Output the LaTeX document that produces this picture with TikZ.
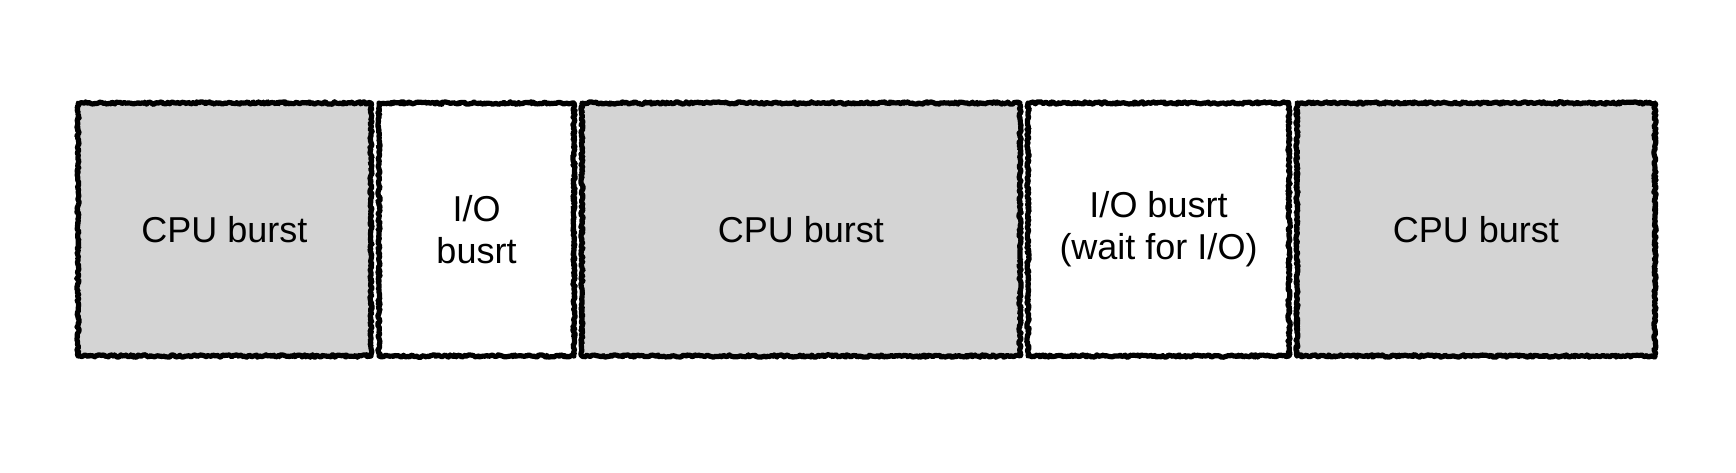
\documentclass[tikz,border=0pt]{standalone}
\usepackage{fontspec}
\setmainfont{Liberation Sans}
\usetikzlibrary{decorations.pathmorphing}
\definecolor{cpufill}{RGB}{212,212,212}
\begin{document}
\pgfmathsetseed{7}
\begin{tikzpicture}[x=0.5pt,y=-0.5pt,
  box/.style={draw=black, line width=2.6pt, line join=round, inner sep=0pt, align=center,
    minimum height=126.5pt,
    font=\fontsize{18}{21}\selectfont,
    decorate, decoration={random steps, segment length=0.8pt, amplitude=0.6pt}},
  cpubox/.style={box, fill=cpufill},
  iobox/.style={box, fill=white}]
\useasboundingbox (0,0) rectangle (1736,472);
\node[cpubox, minimum width=146.5pt] (c1) at (224.5,229.5) {CPU burst};
\node[iobox, minimum width=97.5pt] (io1) at (476.5,229.5) {I/O\\busrt};
\node[cpubox, minimum width=219pt] (c2) at (801,229.5) {CPU burst};
\node[iobox, minimum width=130.5pt] (io2) at (1158.5,229.5) {I/O busrt\\(wait for I/O)};
\node[cpubox, minimum width=179pt] (c3) at (1476,229.5) {CPU burst};
\end{tikzpicture}
\end{document}
